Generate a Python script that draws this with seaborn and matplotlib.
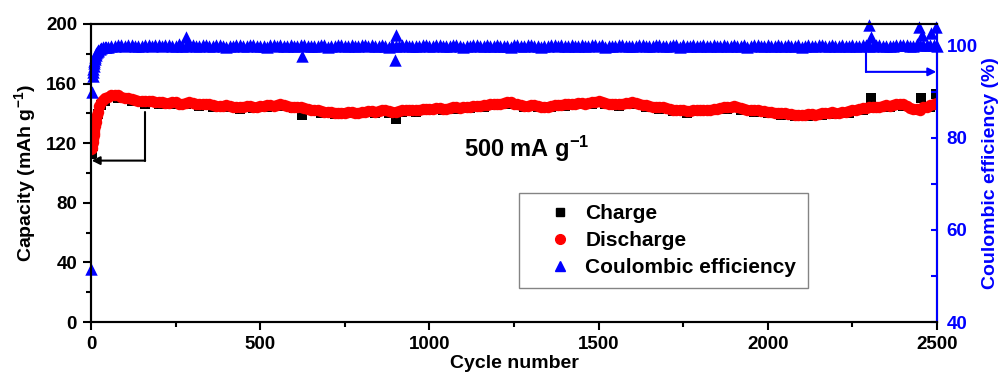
import numpy as np
import pandas as pd
import matplotlib
matplotlib.use("Agg")
import matplotlib.pyplot as plt
import seaborn as sns
from matplotlib.lines import Line2D
from matplotlib.ticker import MultipleLocator

# ---- data ----
cycles_a = np.arange(20, 2501, 20)   # 20, 40, ... 2500
cycles_b = np.arange(10, 2491, 20)   # 10, 30, ... 2490

discharge_early_cycles = [1, 2, 3, 4, 5, 6, 7, 8, 9, 12, 14, 16, 18, 25, 35]
discharge_early = [116, 117, 118.5, 120, 121, 122.5, 124, 125.5, 127,
                   131.5, 134, 137, 139, 145, 149]
discharge_a = [
    141, 150, 152, 152, 150.5, 149.5, 148.5, 148, 148, 147.5,
    147, 147.5, 146.5, 147, 147, 146, 146.5, 145.5, 145, 145.5,
    144.5, 144, 145, 144.5, 145, 145.5, 145, 146, 145, 144.5,
    144, 143, 142.5, 141.5, 141, 140.5, 140, 141, 140.5, 141,
    141.5, 141, 142, 141.5, 141, 142, 142.5, 142, 143, 143,
    143.5, 143, 143.5, 144, 144, 144.5, 145, 145.5, 146, 146.5,
    147, 147.5, 146, 145, 145.5, 145, 144.5, 145, 145.5, 146,
    146.5, 147, 146.5, 147.5, 148, 147, 146.5, 146, 147, 147.5,
    146, 145.5, 144.5, 144, 143.5, 142.5, 142, 141.5, 142, 142.5,
    142, 143, 143.5, 144, 145, 143.5, 142.5, 142, 141.5, 141,
    140.5, 140, 139.5, 139, 139, 139.5, 139, 140, 140.5, 140.5,
    141, 141.5, 142.5, 143.5, 144, 144.5, 145, 145, 146, 146,
    143.5, 143, 144, 145.5, 147,
]
discharge_b = [
    129, 147.5, 151, 152, 151, 150, 149, 148, 148.5, 147.5,
    147.5, 147, 147.5, 146.5, 147.5, 146.5, 146, 146, 145, 145,
    145, 144, 144.5, 145, 144.5, 145, 145.5, 145.5, 145.5, 144.5,
    144, 143.5, 142.5, 142, 141, 141, 140.5, 140.5, 141, 140.5,
    141, 141.5, 141.5, 142, 141, 141.5, 142, 142.5, 142.5, 143,
    143, 143.5, 143, 144, 143.5, 144, 145, 145, 145.5, 146,
    146.5, 147.5, 146.5, 145.5, 145, 145.5, 144.5, 144.5, 145.5, 145.5,
    146, 146.5, 147, 147, 147.5, 147.5, 146.5, 146.5, 146.5, 147,
    147, 145.5, 145, 144, 144, 143, 142, 142, 141.5, 142,
    142.5, 142.5, 143, 144, 144.5, 144, 143, 142, 142, 141.5,
    141, 140, 140, 139.5, 139, 139, 139.5, 139.5, 140, 141,
    140.5, 141, 142, 143, 143.5, 144, 144.5, 145.5, 145.5, 146,
    145, 143, 142.5, 144.5, 146,
]

charge_early_cycles = [1, 2, 3, 5, 8, 12, 16, 20, 30]
charge_early = [113, 113.5, 114.5, 118, 123.5, 130, 136, 139.5, 145.5]
charge_cycles = np.arange(40, 2481, 40)
charge_main = [
    148.5, 150.5, 148, 146.5, 146.5, 146.5, 146, 145, 144.5, 144.5,
    143, 143.5, 144.5, 145, 143.5, 142, 140.5, 139.5, 140, 140,
    140, 140.5, 141, 141, 142, 142, 143, 143.5, 144.5, 145.5,
    146.5, 144, 144, 144, 145, 146, 146.5, 146, 145, 146.5,
    144.5, 143, 141.5, 140.5, 141.5, 142, 143, 142.5, 141, 140,
    139, 138, 138.5, 139, 139.5, 140.5, 142.5, 143.5, 144, 145,
    142, 144.5,
]
charge_out_cycles = [625, 900, 2305, 2453, 2497]
charge_out = [139, 136, 150, 150, 153]

ce_early_cycles = [1, 3, 5, 6, 7, 8, 9, 11, 12, 14, 16, 18, 22, 26, 35, 45]
ce_early = [51.5, 90, 93.5, 94.3, 95, 95.6, 96.2, 97.1, 97.5, 98, 98.4,
            98.7, 99.1, 99.3, 99.6, 99.8]
ce_a = [
    98.9, 99.6, 99.9, 100.1, 100.0, 100.2, 99.9, 100.1, 100.0, 100.2,
    100.1, 99.9, 100.3, 100.0, 100.1, 99.9, 100.2, 100.0, 100.1, 99.8,
    100.0, 100.2, 99.9, 100.1, 100.0, 99.8, 100.1, 100.2, 99.9, 100.0,
    100.1, 99.9, 100.0, 100.2, 99.8, 100.0, 100.1, 99.9, 100.0, 100.2,
    99.9, 100.0, 100.1, 99.8, 100.0, 100.2, 100.0, 99.9, 100.1, 100.0,
    100.2, 99.9, 100.0, 100.1, 99.8, 100.0, 100.2, 100.0, 99.9, 100.1,
    100.0, 99.8, 100.1, 100.0, 100.2, 99.9, 100.0, 100.1, 99.9, 100.0,
    100.2, 100.0, 99.9, 100.1, 100.0, 99.8, 100.0, 100.2, 100.0, 99.9,
    100.1, 100.0, 99.9, 100.2, 100.0, 100.1, 99.8, 100.0, 100.1, 99.9,
    100.0, 100.2, 100.0, 99.9, 100.1, 100.0, 99.8, 100.1, 100.0, 100.2,
    99.9, 100.0, 100.1, 100.0, 99.8, 100.1, 100.0, 100.2, 99.9, 100.0,
    100.1, 100.0, 99.9, 100.2, 100.0, 100.1, 99.9, 100.0, 100.2, 100.1,
    100.0, 100.3, 100.1, 100.2, 100.0,
]
ce_b = [
    96.7, 99.4, 99.8, 100.0, 100.2, 100.1, 99.9, 100.0, 100.2, 100.1,
    100.0, 100.2, 100.0, 99.9, 100.1, 100.0, 100.1, 99.9, 100.2, 100.0,
    99.9, 100.1, 100.0, 100.2, 99.9, 100.0, 100.1, 99.9, 100.0, 100.1,
    100.0, 100.1, 99.9, 100.0, 100.1, 99.9, 100.2, 100.0, 100.1, 99.9,
    100.1, 100.2, 99.9, 100.0, 100.1, 99.9, 100.1, 100.0, 99.9, 100.1,
    100.0, 100.1, 99.9, 100.2, 100.0, 99.9, 100.1, 100.0, 100.1, 100.0,
    99.9, 100.0, 100.2, 99.9, 100.1, 100.0, 99.8, 100.0, 100.1, 100.2,
    100.0, 99.9, 100.1, 100.0, 100.2, 100.1, 99.9, 100.0, 100.1, 100.0,
    99.9, 100.1, 100.0, 100.1, 99.9, 100.0, 100.2, 100.1, 99.9, 100.0,
    100.1, 99.9, 100.0, 100.2, 100.0, 99.9, 100.1, 100.0, 100.2, 99.9,
    100.0, 100.1, 99.9, 100.0, 100.1, 100.0, 99.9, 100.1, 100.0, 100.2,
    100.0, 99.9, 100.1, 100.0, 100.2, 100.0, 100.1, 99.9, 100.0, 100.2,
    100.1, 100.0, 100.2, 100.1, 100.2,
]
ce_out_cycles = [280, 625, 898, 902, 2300, 2305, 2448, 2455, 2482, 2496]
ce_out = [101.8, 97.7, 96.9, 102.3, 104.5, 101.8, 104.0, 102.3, 102.7, 104.0]

# ---- style ----
sns.set_theme(style="ticks")
plt.rcParams["font.family"] = ["Liberation Sans", "DejaVu Sans"]
plt.rcParams["font.weight"] = "bold"
plt.rcParams["mathtext.default"] = "regular"
plt.rcParams["text.color"] = "black"
plt.rcParams["axes.labelcolor"] = "black"
plt.rcParams["xtick.color"] = "black"
plt.rcParams["ytick.color"] = "black"

RED = "#ff0000"
BLUE = "#0000ff"

charge_df = pd.DataFrame({
    "cycle": np.concatenate([charge_early_cycles, charge_cycles, charge_out_cycles]),
    "value": np.concatenate([charge_early, charge_main, charge_out]),
})
discharge_df = pd.DataFrame({
    "cycle": np.concatenate([discharge_early_cycles, cycles_a, cycles_b]),
    "value": np.concatenate([discharge_early, discharge_a, discharge_b]),
})
ce_df = pd.DataFrame({
    "cycle": np.concatenate([ce_early_cycles, cycles_a, cycles_b, ce_out_cycles]),
    "value": np.concatenate([ce_early, ce_a, ce_b, ce_out]),
})

fig = plt.figure(figsize=(10.02, 3.74), dpi=100)
ax = fig.add_axes([0.0908, 0.139, 0.8443, 0.797])
ax2 = ax.twinx()

sns.scatterplot(data=charge_df, x="cycle", y="value", ax=ax, marker="s",
                color="black", s=50, linewidth=0, legend=False)
sns.scatterplot(data=discharge_df, x="cycle", y="value", ax=ax, marker="o",
                color=RED, s=68, linewidth=0, legend=False)
sns.scatterplot(data=ce_df, x="cycle", y="value", ax=ax2, marker="^",
                color=BLUE, s=80, linewidth=0, legend=False, clip_on=False)

ax.set_xlim(0, 2500)
ax.set_ylim(0, 200)
ax2.set_ylim(40, 104.7)

ax.xaxis.set_major_locator(MultipleLocator(500))
ax.xaxis.set_minor_locator(MultipleLocator(250))
ax.yaxis.set_major_locator(MultipleLocator(40))
ax.yaxis.set_minor_locator(MultipleLocator(20))
ax2.yaxis.set_major_locator(MultipleLocator(20))
ax2.yaxis.set_minor_locator(MultipleLocator(10))

for a in (ax, ax2):
    for sp in a.spines.values():
        sp.set_linewidth(1.5)
        sp.set_color("black")
ax2.spines["right"].set_color(BLUE)

ax.tick_params(axis="both", which="major", length=6, width=1.5,
               labelsize=13.5, direction="out", pad=4, colors="black")
ax.tick_params(axis="both", which="minor", length=3.5, width=1.5,
               direction="out", colors="black")
ax2.tick_params(axis="y", which="both", length=4.5, width=1.5,
                direction="in", colors=BLUE, labelsize=13.5, pad=7)
ax.tick_params(axis="y", right=False, which="both")

for lab in ax.get_xticklabels() + ax.get_yticklabels() + ax2.get_yticklabels():
    lab.set_fontweight("bold")

ax.set_xlabel("Cycle number", fontsize=14, fontweight="bold", color="black")
ax.set_ylabel("Capacity (mAh g$^{-1}$)", fontsize=14, fontweight="bold",
              color="black")
ax2.set_ylabel("Coulombic efficiency (%)", fontsize=14, fontweight="bold",
               color=BLUE)
ax.xaxis.set_label_coords(0.5, -0.11)
ax.yaxis.set_label_coords(-0.063, 0.5)
ax2.yaxis.set_label_coords(1.053, 0.5)

# guide arrows
ax.plot([160, 160], [141, 108.3], color="black", lw=1.5)
ax.annotate("", xy=(2, 108.3), xytext=(160, 108.3),
            arrowprops=dict(arrowstyle="-|>", color="black", lw=1.5,
                            mutation_scale=12, shrinkA=0, shrinkB=0))
ax2.plot([2290, 2290], [98.7, 94.3], color=BLUE, lw=1.5)
ax2.annotate("", xy=(2498, 94.3), xytext=(2290, 94.3),
             arrowprops=dict(arrowstyle="-|>", color=BLUE, lw=1.5,
                             mutation_scale=12, shrinkA=0, shrinkB=0))

ax.text(1287, 110.7, "500 mA g$^{-1}$", fontsize=17, fontweight="bold",
        ha="center", va="baseline", color="black")

handles = [
    Line2D([], [], marker="s", color="black", linestyle="", markersize=6.3),
    Line2D([], [], marker="o", color=RED, linestyle="", markersize=7),
    Line2D([], [], marker="^", color=BLUE, linestyle="", markersize=7.5),
]
leg = ax2.legend(handles, ["Charge", "Discharge", "Coulombic efficiency"],
                 loc="upper left", bbox_to_anchor=(0.506, 0.433),
                 bbox_transform=ax.transAxes, frameon=True, fancybox=False,
                 prop={"size": 15, "weight": "bold"}, handlelength=2.86,
                 handletextpad=-0.23, labelspacing=0.37, borderpad=0.55,
                 borderaxespad=0, numpoints=1)
leg.get_frame().set_edgecolor("#666666")
leg.get_frame().set_linewidth(1.0)
for t in leg.get_texts():
    t.set_color("black")

fig.savefig("out.png", dpi=100)
